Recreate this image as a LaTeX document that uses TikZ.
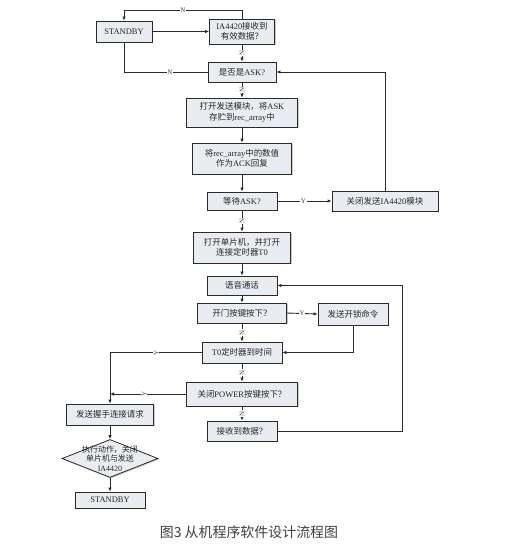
\documentclass[tikz,border=0pt]{standalone}
\usepackage{fontspec}
\setmainfont{Liberation Serif}
\newfontfamily\cjk{Noto Sans CJK SC}
\usetikzlibrary{arrows.meta,shapes.geometric,shadows}
\newcommand{\lat}[1]{{\rmfamily #1}}
\definecolor{boxfill}{HTML}{E9EDF1}
\definecolor{lineclr}{HTML}{2A2A2A}
\begin{document}
\begin{tikzpicture}[x=1bp,y=-1bp,
  every node/.style={font=\cjk\fontsize{8.5}{10.5}\selectfont, text=black!85},
  pbox/.style={draw=lineclr, line width=0.8bp, fill=boxfill, inner sep=1bp, align=center,
     drop shadow={shadow xshift=1bp, shadow yshift=-1bp, fill=black!35, opacity=0.6}},
  dbox/.style={pbox, diamond, inner sep=0bp},
  conn/.style={draw=lineclr, line width=0.9bp},
  arr/.style={conn, -{Latex[length=4bp,width=3.5bp]}},
  lab/.style={font=\rmfamily\fontsize{7}{7.5}\selectfont, fill=white, inner sep=0.6bp, text=black!75},
  vlab/.style={lab, rotate=90}
]
\useasboundingbox (0,0) rectangle (517,550);

\node[pbox, minimum width=56bp, minimum height=21bp] (sb1) at (124,31.5) {\lat{STANDBY}};
\node[pbox, minimum width=65bp, minimum height=25bp] (ia) at (242,31.5) {\lat{IA4420}接收到\\有效数据？};
\node[pbox, minimum width=68bp, minimum height=20bp] (ask) at (242,72) {是否是\lat{ASK?}};
\node[pbox, minimum width=111bp, minimum height=29bp] (open) at (242,112.5) {打开发送模块，将\lat{ASK}\\存贮到\lat{rec\_array}中};
\node[pbox, minimum width=99bp, minimum height=31bp] (rec) at (242,158.5) {将\lat{rec\_array}中的数值\\作为\lat{ACK}回复};
\node[pbox, minimum width=70bp, minimum height=18bp] (wait) at (242,201) {等待\lat{ASK?}};
\node[pbox, minimum width=106bp, minimum height=20bp] (close) at (385,201) {关闭发送\lat{IA4420}模块};
\node[pbox, minimum width=97bp, minimum height=31bp] (mcu) at (242,247.5) {打开单片机，并打开\\连接定时器\lat{T0}};
\node[pbox, minimum width=70bp, minimum height=19bp] (voice) at (242,285.5) {语音通话};
\node[pbox, minimum width=89bp, minimum height=20bp] (door) at (242,313) {开门按键按下？};
\node[pbox, minimum width=70bp, minimum height=22bp] (unlock) at (353,314) {发送开锁命令};
\node[pbox, minimum width=80bp, minimum height=21bp] (t0) at (242,352.5) {\lat{T0}定时器到时间};
\node[pbox, minimum width=111bp, minimum height=24bp] (power) at (242,394) {关闭\lat{POWER}按键按下？};
\node[pbox, minimum width=87bp, minimum height=21bp] (shake) at (110,414.5) {发送握手连接请求};
\node[dbox, minimum width=96bp, minimum height=38bp] (act) at (110,458.5) {};
\node[align=center, font=\cjk\fontsize{8}{9.5}\selectfont] (acttxt) at (110,458.5) {执行动作，关闭\\单片机与发送\\\lat{IA4420}};
\node[pbox, minimum width=70bp, minimum height=20bp] (recv) at (242,431) {接收到数据？};
\node[pbox, minimum width=70bp, minimum height=16bp] (sb2) at (110,500) {\lat{STANDBY}};

\node[font=\cjk\fontsize{14}{16}\selectfont, text=black!75] (cap) at (249,532) {图3 从机程序软件设计流程图};

% connectors
\coordinate (c1) at (242,10);
\coordinate (c2) at (124,10);
\draw[arr] (ia.north) -- (c1) -- node[lab]{N} (c2) -- (sb1.north);
\draw[arr] (sb1.east) -- (ia.west);
\draw[arr] (ia.south) -- node[vlab]{N} (ask.north);
\coordinate (c3) at (124,72);
\draw[conn] (ask.west) -- node[lab, pos=0.45]{N} (c3) -- (sb1.south);
\coordinate (c4) at (385,72);
\draw[arr] (close.north) -- (c4) -- (ask.east);
\draw[arr] (ask.south) -- node[vlab]{N} (open.north);
\draw[arr] (open.south) -- (rec.north);
\draw[arr] (rec.south) -- (wait.north);
\draw[arr] (wait.east) -- node[lab, pos=0.48]{Y} (close.west);
\draw[arr] (wait.south) -- node[vlab]{N} (mcu.north);
\draw[arr] (mcu.south) -- (voice.north);
\draw[arr] (voice.south) -- (door.north);
\draw[arr] (door.east) -- node[lab]{Y} (unlock.west);
\coordinate (c5) at (353,352.5);
\draw[arr] (unlock.south) -- (c5) -- (t0.east);
\draw[arr] (door.south) -- node[vlab]{N} (t0.north);
\coordinate (c6) at (110,352.5);
\draw[arr] (t0.west) -- node[vlab, pos=0.45, yshift=4bp]{Y} (c6) -- (shake.north);
\draw[arr] (t0.south) -- node[vlab]{N} (power.north);
\coordinate (c7) at (110,394);
\draw[arr] (power.west) -- node[vlab, pos=0.5, yshift=4bp]{Y} (c7);
\draw[arr] (power.south) -- node[vlab]{N} (recv.north);
\coordinate (c8) at (402,431);
\coordinate (c9) at (402,285.5);
\draw[arr] (recv.east) -- (c8) -- (c9) -- (voice.east);
\draw[arr] (shake.south) -- (act.north);
\draw[arr] (act.south) -- (sb2.north);
\end{tikzpicture}
\end{document}
